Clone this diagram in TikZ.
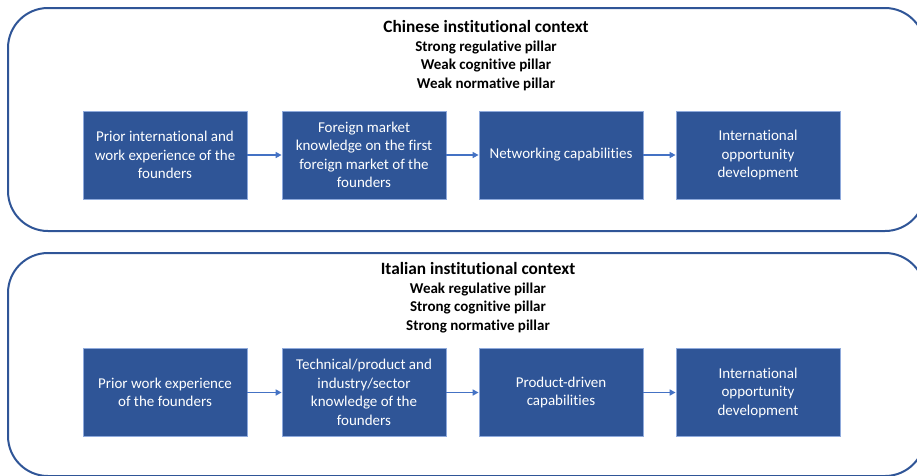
\documentclass[tikz,border=0pt]{standalone}
\usepackage{fontspec}
\setmainfont[Ligatures={NoCommon}]{Carlito}
\usetikzlibrary{arrows.meta}
\definecolor{boxblue}{HTML}{2F5597}
\definecolor{boxedge}{HTML}{8FAADC}
\definecolor{arrblue}{HTML}{4472C4}
\definecolor{frameblue}{HTML}{2F5597}
\tikzset{
  stepbox/.style={draw=boxedge, line width=0.8pt, fill=boxblue, text=white,
    minimum width=164pt, minimum height=88pt, inner sep=0pt,
    align=center, font=\fontsize{15}{18.5}\selectfont},
  frame/.style={draw=frameblue, line width=2pt, rounded corners=40pt},
  flow/.style={draw=arrblue, line width=1.6pt, -{Triangle[length=6pt,width=6pt]}},
  heading/.style={font=\bfseries\fontsize{15}{18}\selectfont, inner sep=0pt, anchor=base},
  titletext/.style={font=\bfseries\fontsize{17.3}{20}\selectfont, inner sep=0pt, anchor=base},
}
\begin{document}
\begin{tikzpicture}[x=1pt,y=-1pt]
\useasboundingbox (0,0) rectangle (917,475);
\clip (0,0) rectangle (917,475);
% frames
\draw[frame] (8,8) rectangle (925,231);
\draw[frame] (8,253) rectangle (925,476);
% Chinese
\node[titletext] (h1) at (486,32.5) {Chinese institutional context};
\node[heading] (h1a) at (486,51) {Strong regulative pillar};
\node[heading] (h1b) at (486,69.5) {Weak cognitive pillar};
\node[heading] (h1c) at (486,88) {Weak normative pillar};
\node[stepbox] (a1) at (165,155) {Prior international and\\work experience of the\\founders};
\node[stepbox] (a2) at (364,155) {Foreign market\\knowledge on the first\\foreign market of the\\founders};
\node[stepbox] (a3) at (561,155) {Networking capabilities};
\node[stepbox] (a4) at (758,155) {International\\opportunity\\development};
\draw[flow] (a1) -- (a2);
\draw[flow] (a2) -- (a3);
\draw[flow] (a3) -- (a4);
% Italian
\node[titletext] (h2) at (478,274.5) {Italian institutional context};
\node[heading] (h2a) at (478,293) {Weak regulative pillar};
\node[heading] (h2b) at (478,311.5) {Strong cognitive pillar};
\node[heading] (h2c) at (478,330) {Strong normative pillar};
\node[stepbox] (b1) at (165,392.5) {Prior work experience\\of the founders};
\node[stepbox] (b2) at (364,392.5) {Technical/product and\\industry/sector\\knowledge of the\\founders};
\node[stepbox] (b3) at (561,392.5) {Product-driven\\capabilities};
\node[stepbox] (b4) at (758,392.5) {International\\opportunity\\development};
\draw[flow] (b1) -- (b2);
\draw[flow] (b2) -- (b3);
\draw[flow] (b3) -- (b4);
\end{tikzpicture}
\end{document}
